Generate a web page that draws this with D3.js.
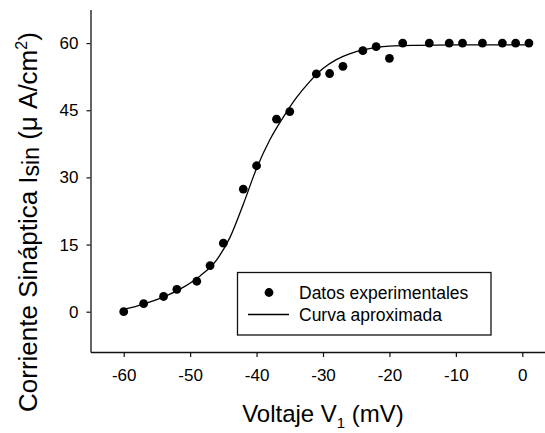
<!DOCTYPE html>
<html>
<head>
<meta charset="utf-8">
<script src="https://cdn.jsdelivr.net/npm/d3@7"></script>
<style>
  html, body { margin: 0; padding: 0; background: #fff; }
  svg { display: block; font-family: Arial, "Liberation Sans", sans-serif; }
</style>
</head>
<body>
<svg id="chart" width="545" height="433"></svg>
<script>
// Measured synaptic current vs presynaptic voltage
const voltage = [-60, -57, -54, -52, -49, -47, -45, -42, -40, -37, -35, -31, -29, -27, -24, -22, -20, -18, -14, -11, -9, -6, -3, -1, 1];
const current = [0, 1.8, 3.4, 5.0, 6.8, 10.3, 15.3, 27.4, 32.6, 43.0, 44.7, 53.1, 53.2, 54.8, 58.3, 59.2, 56.6, 60, 60, 60, 60, 60, 60, 60, 60];

// Fitted (approximating) curve, sampled along the voltage range
const fitVoltage = [-60, -57, -54, -51, -48.5, -46, -44, -42, -40, -38, -36, -34, -32, -30, -28, -26, -24, -22, -20, -16, -10, 1];
const fitCurrent = [0.5, 1.7, 3.3, 5.5, 8.0, 11.6, 16.6, 24.0, 32.0, 38.4, 43.4, 47.8, 51.4, 54.3, 56.3, 57.6, 58.5, 59.0, 59.3, 59.5, 59.6, 59.6];

const xTicks = [-60, -50, -40, -30, -20, -10, 0];
const yTicks = [0, 15, 30, 45, 60];

const svg = d3.select("#chart");

const x = d3.scaleLinear().domain([-65, 5]).range([90.5, 555.5]);
const y = d3.scaleLinear().domain([-9, 67.5]).range([352, 9.5]);

// Axes
const xAxis = svg.append("g")
  .attr("transform", `translate(0,${y(-9)})`)
  .call(d3.axisBottom(x).tickValues(xTicks).tickFormat(d3.format("d")).tickSize(5).tickSizeOuter(0).tickPadding(12));
const yAxis = svg.append("g")
  .attr("transform", `translate(${x(-65)},0)`)
  .call(d3.axisLeft(y).tickValues(yTicks).tickFormat(d3.format("d")).tickSize(4).tickSizeOuter(0).tickPadding(8));

[xAxis, yAxis].forEach(g => {
  g.select(".domain").attr("stroke", "#111").attr("stroke-width", 1.3);
  g.selectAll(".tick line").attr("stroke", "#111").attr("stroke-width", 1.2);
  g.selectAll(".tick text").attr("fill", "#000").style("font-size", "17px").style("font-family", "Arial, 'Liberation Sans', sans-serif");
});
xAxis.selectAll(".tick text").text(d => d < 0 ? "-" + Math.abs(d) : d);

// Fitted curve
const line = d3.line()
  .x(d => x(d[0]))
  .y(d => y(d[1]))
  .curve(d3.curveMonotoneX);
svg.append("path")
  .datum(fitVoltage.map((v, i) => [v, fitCurrent[i]]))
  .attr("d", line)
  .attr("fill", "none")
  .attr("stroke", "#000")
  .attr("stroke-width", 1.3);

// Experimental points
svg.append("g").selectAll("circle")
  .data(voltage.map((v, i) => [v, current[i]]))
  .join("circle")
  .attr("cx", d => x(d[0]))
  .attr("cy", d => y(d[1]))
  .attr("r", 4.4)
  .attr("fill", "#000");

// Legend
const lg = svg.append("g");
lg.append("rect")
  .attr("x", 237.5).attr("y", 272.5).attr("width", 253.5).attr("height", 62.5)
  .attr("fill", "#fff").attr("stroke", "#111").attr("stroke-width", 1.3);
lg.append("circle").attr("cx", 269).attr("cy", 292.5).attr("r", 4.4).attr("fill", "#000");
lg.append("line").attr("x1", 248).attr("x2", 289).attr("y1", 314.5).attr("y2", 314.5)
  .attr("stroke", "#000").attr("stroke-width", 1.3);
lg.append("text").attr("x", 299).attr("y", 298.5).style("font-size", "17.5px").text("Datos experimentales");
lg.append("text").attr("x", 299).attr("y", 320.5).style("font-size", "17.5px").text("Curva aproximada");

// Axis titles
const xt = svg.append("text")
  .attr("x", 323).attr("y", 422)
  .attr("text-anchor", "middle")
  .style("font-size", "24px");
xt.append("tspan").text("Voltaje V");
xt.append("tspan").attr("dy", 6).style("font-size", "15px").text("1");
xt.append("tspan").attr("dy", -6).text(" (mV)");

const yt = svg.append("text")
  .attr("transform", "translate(37,412) rotate(-90)")
  .attr("text-anchor", "start")
  .style("font-size", "26px");
yt.append("tspan").text("Corriente Sináptica I");
yt.append("tspan").attr("dy", 2).style("font-size", "23px").text("sin");
yt.append("tspan").attr("dy", -2).text(" (\u03bc A/cm");
yt.append("tspan").attr("dy", -10).style("font-size", "16px").text("2");
yt.append("tspan").attr("dy", 10).text(")");
</script>
</body>
</html>
